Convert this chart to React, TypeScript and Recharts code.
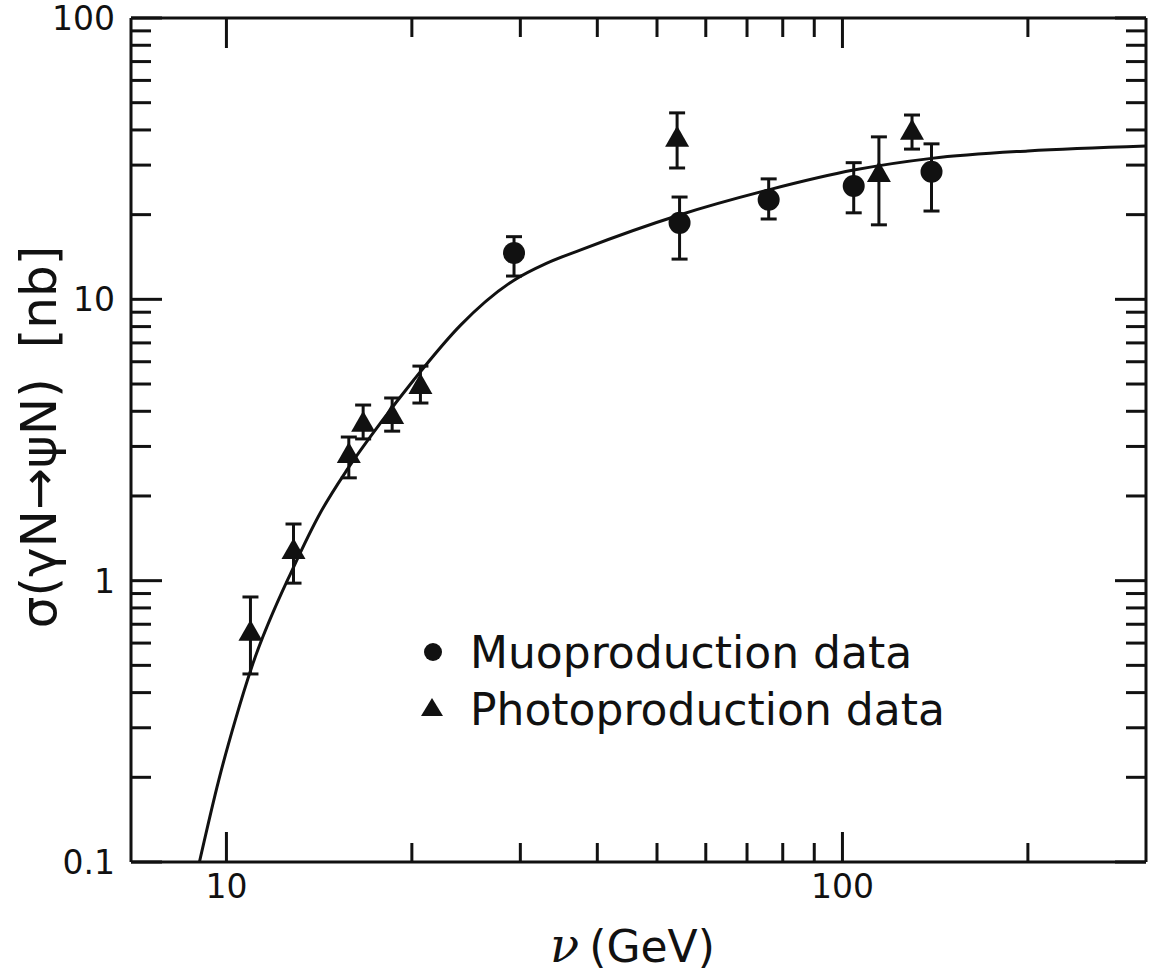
import React from 'react';
import { ComposedChart, Line, Scatter, XAxis, YAxis, ErrorBar, Legend } from 'recharts';

// ---- tick definitions ----
const xMajorTicks = [10, 100];
const xMinorTicks = [20, 30, 40, 50, 60, 70, 80, 90, 200];
const yMajorTicks = [0.1, 1, 10, 100];
const yMinorTicks = [
  0.2, 0.3, 0.4, 0.5, 0.6, 0.7, 0.8, 0.9,
  2, 3, 4, 5, 6, 7, 8, 9,
  20, 30, 40, 50, 60, 70, 80, 90,
];
const xDomain = [7, 311];
const yDomain = [0.1, 100];

// ---- theory curve ----
const curveNu = [9.04, 9.72, 10.34, 11.0, 12.86, 14.2, 15.7, 17.78, 20.14, 24, 29.3, 33, 37.6, 54.4, 75.9, 104.3, 139.5, 200, 311];
const curveSigma = [0.1, 0.196, 0.32, 0.495, 1.12, 1.74, 2.48, 3.63, 5.17, 8.1, 11.7, 13.4, 15.0, 19.95, 24.5, 28.8, 31.7, 33.7, 35.1];

// ---- muoproduction data (circles) ----
const muoNu = [29.3, 54.4, 75.9, 104.3, 139.5];
const muoSigma = [14.6, 18.7, 22.6, 25.3, 28.4];
const muoErrLow = [2.5, 4.8, 3.3, 5.0, 7.8];
const muoErrHigh = [2.1, 4.4, 4.2, 5.3, 7.3];

// ---- photoproduction data (triangles) ----
const photoNu = [10.94, 12.85, 15.8, 16.67, 18.58, 20.65, 53.9, 114.6, 129.7];
const photoSigma = [0.658, 1.285, 2.82, 3.64, 3.88, 4.96, 37.5, 28.1, 39.7];
const photoErrLow = [0.192, 0.305, 0.5, 0.45, 0.48, 0.68, 8.2, 9.7, 5.5];
const photoErrHigh = [0.217, 0.305, 0.42, 0.57, 0.58, 0.83, 8.5, 9.7, 5.5];

const curveData = curveNu.map((v, i) => ({ v, s: curveSigma[i] }));
const muoData = muoNu.map((v, i) => ({ v, s: muoSigma[i], err: [muoErrLow[i], muoErrHigh[i]] }));
const photoData = photoNu.map((v, i) => ({ v, s: photoSigma[i], err: [photoErrLow[i], photoErrHigh[i]] }));

const FONT = '"DejaVu Sans", "Liberation Sans", sans-serif';
const INK = '#111';

function XTick(props: any) {
  const { x, y, payload, side } = props;
  const v = payload.value;
  const major = xMajorTicks.includes(v);
  const len = major ? 30 : 19;
  const dir = side === 'top' ? 1 : -1;
  return (
    <g>
      <line x1={x} x2={x} y1={y} y2={y + dir * len} stroke={INK} strokeWidth={3} />
      {major && side !== 'top' && (
        <text x={x} y={y + 36} textAnchor="middle" fontSize={33} fontFamily={FONT} fill={INK}>
          {String(v)}
        </text>
      )}
    </g>
  );
}

function YTick(props: any) {
  const { x, y, payload, side } = props;
  const v = payload.value;
  const major = yMajorTicks.includes(v);
  const len = major ? 31 : 20;
  const dir = side === 'left' ? 1 : -1;
  return (
    <g>
      <line x1={x} x2={x + dir * len} y1={y} y2={y} stroke={INK} strokeWidth={3} />
      {major && side === 'left' && (
        <text x={x - 16} y={y + 12} textAnchor="end" fontSize={33} fontFamily={FONT} fill={INK}>
          {String(v)}
        </text>
      )}
    </g>
  );
}

function Circle(props: any) {
  const { cx, cy } = props;
  if (cx == null || cy == null) return null;
  return <circle cx={cx} cy={cy} r={11} fill={INK} />;
}

function Triangle(props: any) {
  const { cx, cy } = props;
  if (cx == null || cy == null) return null;
  const pts = `${cx},${cy - 12} ${cx - 12},${cy + 9} ${cx + 12},${cy + 9}`;
  return <polygon points={pts} fill={INK} />;
}

function LegendBox() {
  return (
    <svg width={580} height={130} style={{ display: 'block' }}>
      <circle cx={33} cy={42} r={9} fill={INK} />
      <text x={70} y={58} fontSize={44} fontFamily={FONT} fill={INK}>Muoproduction data</text>
      <polygon points="32,88 21,106 43,106" fill={INK} />
      <text x={70} y={115} fontSize={44} fontFamily={FONT} fill={INK}>Photoproduction data</text>
    </svg>
  );
}

function XLabel(props: any) {
  const vb = props.viewBox || {};
  const cx = vb.x + vb.width / 2 - 6;
  return (
    <text x={cx} y={962} textAnchor="middle" fontSize={44} fontFamily={FONT} fill={INK}>
      <tspan fontFamily='"DejaVu Serif", serif' fontStyle="italic" fontSize={48}>ν</tspan>
      <tspan dx={10}>(GeV)</tspan>
    </text>
  );
}

function YLabel(props: any) {
  const vb = props.viewBox || {};
  const cy = vb.y + vb.height / 2 - 3;
  const cx = 38;
  return (
    <text
      transform={`translate(${cx}, ${cy}) rotate(-90)`}
      textAnchor="middle"
      y={18}
      fontSize={50}
      fontFamily={FONT}
      fill={INK}
    >
      <tspan>σ(γN→ψN)</tspan>
      <tspan dx={30}>[nb]</tspan>
    </text>
  );
}

export default function App() {
  const xTicks = [...xMajorTicks, ...xMinorTicks].sort((a, b) => a - b);
  const yTicks = [...yMajorTicks, ...yMinorTicks].sort((a, b) => a - b);
  return (
    <div style={{ position: 'absolute', left: 0, top: 0, width: 1149, height: 975, background: '#fff' }}>
      <ComposedChart
        width={1149}
        height={975}
        margin={{ top: 17, right: 2, bottom: 112, left: 130 }}
      >
        <XAxis
          xAxisId={0}
          dataKey="v"
          type="number"
          scale="log"
          domain={xDomain}
          allowDataOverflow
          ticks={xTicks}
          interval={0}
          height={1}
          tickSize={0}
          tickMargin={0}
          tickLine={false}
          axisLine={{ stroke: INK, strokeWidth: 3 }}
          tick={(p: any) => <XTick {...p} side="bottom" />}
          label={<XLabel />}
        />
        <XAxis
          xAxisId="top"
          orientation="top"
          dataKey="v"
          type="number"
          scale="log"
          domain={xDomain}
          allowDataOverflow
          ticks={xTicks}
          interval={0}
          height={1}
          tickSize={0}
          tickMargin={0}
          tickLine={false}
          axisLine={{ stroke: INK, strokeWidth: 3 }}
          tick={(p: any) => <XTick {...p} side="top" />}
        />
        <YAxis
          yAxisId={0}
          type="number"
          scale="log"
          domain={yDomain}
          allowDataOverflow
          ticks={yTicks}
          interval={0}
          width={1}
          tickSize={0}
          tickMargin={0}
          tickLine={false}
          axisLine={{ stroke: INK, strokeWidth: 3 }}
          tick={(p: any) => <YTick {...p} side="left" />}
          label={<YLabel />}
        />
        <YAxis
          yAxisId="right"
          orientation="right"
          type="number"
          scale="log"
          domain={yDomain}
          allowDataOverflow
          ticks={yTicks}
          interval={0}
          width={1}
          tickSize={0}
          tickMargin={0}
          tickLine={false}
          axisLine={{ stroke: INK, strokeWidth: 3 }}
          tick={(p: any) => <YTick {...p} side="right" />}
        />
        <Line
          data={curveData}
          dataKey="s"
          type="monotone"
          stroke={INK}
          strokeWidth={3}
          dot={false}
          activeDot={false}
          isAnimationActive={false}
        />
        <Scatter data={muoData} dataKey="s" shape={<Circle />} isAnimationActive={false}>
          <ErrorBar dataKey="err" direction="y" width={8} stroke={INK} strokeWidth={3} />
        </Scatter>
        <Scatter data={photoData} dataKey="s" shape={<Triangle />} isAnimationActive={false}>
          <ErrorBar dataKey="err" direction="y" width={8} stroke={INK} strokeWidth={3} />
        </Scatter>
        <Legend
          layout="vertical"
          align="center"
          verticalAlign="middle"
          wrapperStyle={{ left: 400, top: 610, width: 580 }}
          content={() => <LegendBox />}
        />
      </ComposedChart>
    </div>
  );
}
